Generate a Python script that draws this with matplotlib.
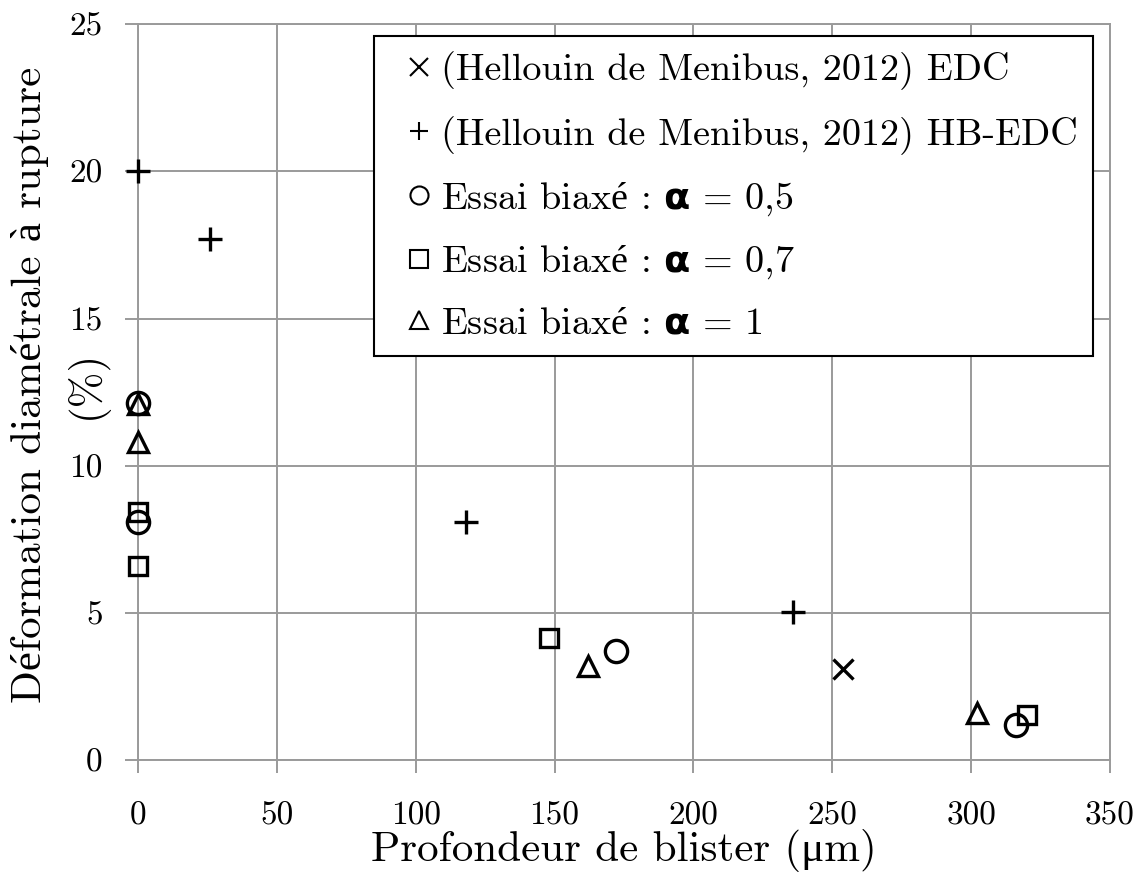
import matplotlib
matplotlib.use("Agg")
import matplotlib.pyplot as plt

plt.rcParams["font.family"] = ["cmr10", "Liberation Serif"]
plt.rcParams["mathtext.fontset"] = "custom"
plt.rcParams["mathtext.rm"] = "Liberation Serif"
plt.rcParams["mathtext.bf"] = "DejaVu Sans:bold"
plt.rcParams["axes.formatter.use_mathtext"] = False

# données
edc_x = [254]
edc_y = [3.1]
hb_x = [0, 26, 118, 236]
hb_y = [20.0, 17.7, 8.1, 5.05]
a05_x = [0, 0, 172, 316]
a05_y = [12.15, 8.1, 3.7, 1.2]
a07_x = [0, 0, 148, 320]
a07_y = [8.45, 6.6, 4.15, 1.55]
a1_x = [0, 0, 162, 302]
a1_y = [12.1, 10.8, 3.2, 1.6]

labels = [
    "(Hellouin de Menibus, 2012) EDC",
    "(Hellouin de Menibus, 2012) HB-EDC",
    r"Essai biax$\mathrm{é}$ : $\mathbf{\alpha}$ = 0,5",
    r"Essai biax$\mathrm{é}$ : $\mathbf{\alpha}$ = 0,7",
    r"Essai biax$\mathrm{é}$ : $\mathbf{\alpha}$ = 1",
]

fig = plt.figure(figsize=(11.44, 8.81), dpi=100)
ax = fig.add_axes([0.1206, 0.1368, 0.8497, 0.836])

grid_c = "#9a9a9a"
ms = 15
mew = 2.4
kw = dict(clip_on=False, zorder=3, linestyle="none")
ax.plot(edc_x, edc_y, "x", color="black", ms=ms, mew=mew, label=labels[0], **kw)
ax.plot(hb_x, hb_y, "+", color="black", ms=ms + 2, mew=mew, label=labels[1], **kw)
ax.plot(a05_x, a05_y, "o", mfc="none", mec="black", ms=ms + 1, mew=mew, label=labels[2], **kw)
ax.plot(a07_x, a07_y, "s", mfc="none", mec="black", ms=ms - 2, mew=mew, label=labels[3], **kw)
ax.plot(a1_x, a1_y, "^", mfc="none", mec="black", ms=ms, mew=mew, label=labels[4], **kw)

ax.set_xlim(0, 350)
ax.set_ylim(0, 25)
ax.set_xticks(range(0, 351, 50))
ax.set_yticks(range(0, 26, 5))
ax.grid(True, color=grid_c, lw=1.4)
ax.set_axisbelow(True)
for s in ax.spines.values():
    s.set_color(grid_c)
    s.set_linewidth(1.4)
ax.tick_params(length=9.5, width=1.4, color=grid_c, labelsize=24)
ax.tick_params(axis="x", pad=20)
ax.tick_params(axis="y", pad=16)

ax.set_xlabel("Profondeur de blister (μm)", fontsize=31, va="baseline")
ax.xaxis.set_label_coords(0.5, -0.1365)
ax.set_ylabel("Déformation diamétrale à rupture", fontsize=31)
ax.yaxis.set_label_coords(-0.092, 0.51)
ax.text(-0.0535, 0.51, "(%)", transform=ax.transAxes, rotation=90,
        ha="center", va="center", fontsize=31)

leg = ax.legend(loc="upper right", bbox_to_anchor=(0.9825, 0.984), fontsize=27.5,
                fancybox=False, framealpha=1, edgecolor="black",
                handlelength=1.55, handletextpad=-0.22, labelspacing=0.67,
                borderpad=0.41, borderaxespad=0)
leg.get_frame().set_linewidth(1.5)
for h in leg.legend_handles:
    h.set_markersize(13)
    h.set_markeredgewidth(1.5)

fig.savefig("out.png", dpi=100)
